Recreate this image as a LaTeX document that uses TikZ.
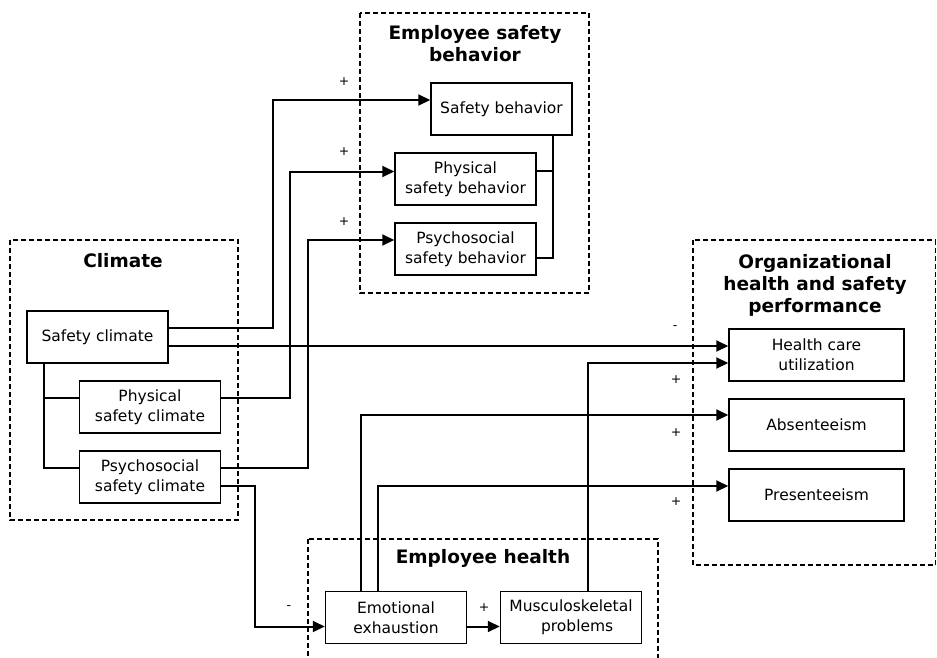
\documentclass[tikz,border=0pt]{standalone}
\usepackage{fontspec}
\setmainfont{DejaVu Sans}
\usetikzlibrary{arrows.meta}
\begin{document}
\begin{tikzpicture}[x=1pt,y=-1pt,
  box/.style={draw, fill=white, line width=1.5pt, minimum width=141pt, minimum height=52pt, align=center, inner sep=2pt, font=\fontsize{15.5}{20}\selectfont},
  grp/.style={draw, line width=1.3pt, dash pattern=on 5pt off 3pt},
  ttl/.style={font=\fontsize{18.5}{22}\selectfont\bfseries, align=center},
  lbl/.style={font=\fontsize{12.5}{14}\selectfont},
  arr/.style={line width=2pt, -{Triangle[length=12pt,width=11pt]}},
  ln/.style={line width=2pt}]
\clip (0,0) rectangle (937,658);
% groups
\draw[grp] (10,240) rectangle (238,520);
\draw[grp] (360,13) rectangle (589,293);
\draw[grp] (693,240) rectangle (935.5,565);
\draw[grp] (308,539) rectangle (658,680);
\node[ttl] (tclim) at (123,261) {Climate};
\node[ttl] (tesb) at (475,44) {Employee safety\\behavior};
\node[ttl] (torg) at (815,285) {Organizational\\health and safety\\performance};
\node[ttl] (teh) at (483,558) {Employee health};
% boxes
\node[box] (sc) at (97.5,337) {Safety climate};
\node[box] (psc) at (150,407) {Physical\\safety climate};
\node[box] (pyc) at (150,477) {Psychosocial\\safety climate};
\node[box] (sb) at (501.5,109) {Safety behavior};
\node[box] (pb) at (465.5,179) {Physical\\safety behavior};
\node[box] (yb) at (465.5,249) {Psychosocial\\safety behavior};
\node[box, minimum width=175pt] (hc) at (816.5,355) {Health care\\utilization};
\node[box, minimum width=175pt] (ab) at (816.5,425) {Absenteeism};
\node[box, minimum width=175pt] (pr) at (816.5,495) {Presenteeism};
\node[box] (ee) at (396,617.5) {Emotional\\exhaustion};
\node[box] (mp) at (571,617.5) {Musculoskeletal\\\hspace*{0.8em}problems};
% trees
\coordinate (t1) at ([xshift=18pt]sc.south west);
\draw[ln] (t1) |- ([yshift=9pt]pyc.west);
\draw[ln] ([yshift=9pt]psc.west) -| (t1);
\coordinate (t2) at ([xshift=51.5pt]sb.south);
\draw[ln] (t2) |- ([yshift=-9pt]yb.east);
\draw[ln] ([yshift=8pt]pb.east) -| (t2);
% arrows
\draw[arr] ([yshift=9pt]sc.east) -- (273,328) |- ([yshift=9pt]sb.west);
\draw[arr] ([yshift=9pt]psc.east) -- (290,398) |- ([yshift=7.5pt]pb.west);
\draw[arr] ([yshift=9pt]pyc.east) -- (308,468) |- ([yshift=9pt]yb.west);
\draw[arr] ([yshift=-9pt]sc.east) -- ([yshift=9pt]hc.west);
\draw[arr] ([yshift=-9pt]pyc.east) -- (255,486) |- ([yshift=-9pt]ee.west);
\draw[arr] ([yshift=-9pt]ee.east) -- ([yshift=-9pt]mp.west);
\draw[arr] ([xshift=-35pt]ee.north) |- ([yshift=10pt]ab.west);
\draw[arr] ([xshift=-18pt]ee.north) |- ([yshift=9pt]pr.west);
\draw[arr] ([xshift=17pt]mp.north) |- ([yshift=-8pt]hc.west);
% labels
\node[lbl] (l1) at (344,82) {+};
\node[lbl] (l2) at (344,152) {+};
\node[lbl] (l3) at (344,222) {+};
\node[lbl] (l4) at (675,328) {-};
\node[lbl] (l5) at (676,380) {+};
\node[lbl] (l6) at (676,433) {+};
\node[lbl] (l7) at (676,502) {+};
\node[lbl] (l8) at (289,608) {-};
\node[lbl] (l9) at (484,608) {+};
\end{tikzpicture}
\end{document}
